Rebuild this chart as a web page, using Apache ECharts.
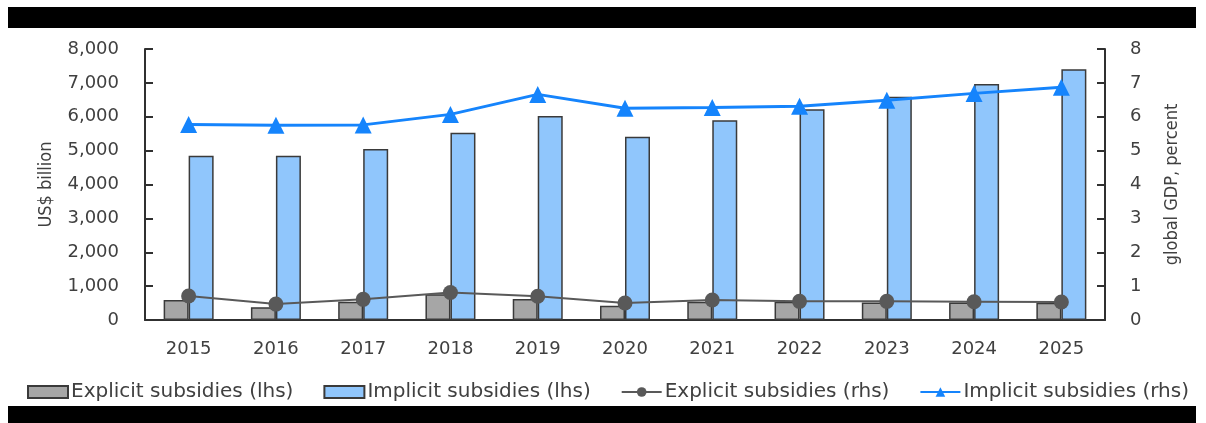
<!DOCTYPE html>
<html>
<head>
<meta charset="utf-8">
<script src="https://cdn.jsdelivr.net/npm/echarts@6/dist/echarts.min.js"></script>
<style>
  html, body { margin: 0; padding: 0; background: #fff; }
  #chart { width: 1206px; height: 423px; }
</style>
</head>
<body>
<div id="chart"></div>
<script>
// Fossil-fuel subsidies, 2015-2025
const years = ['2015', '2016', '2017', '2018', '2019', '2020', '2021', '2022', '2023', '2024', '2025'];
// US$ billion (left axis)
const explicitBillion = [590, 380, 540, 760, 620, 420, 540, 540, 520, 520, 510];
const implicitBillion = [4850, 4850, 5050, 5530, 6020, 5410, 5900, 6220, 6590, 6970, 7400];
// percent of global GDP (right axis)
const explicitPctGdp = [0.71, 0.47, 0.61, 0.81, 0.70, 0.50, 0.59, 0.55, 0.55, 0.54, 0.53];
const implicitPctGdp = [5.77, 5.75, 5.76, 6.07, 6.66, 6.25, 6.27, 6.31, 6.49, 6.69, 6.87];

const FONT = 'DejaVu Sans';
const NARROW = "'DejaVu Sans Condensed', 'Liberation Sans', sans-serif";
const TEXT = '#404040';
const AXIS = '#303030';

const chart = echarts.init(document.getElementById('chart'));
chart.setOption({
  backgroundColor: '#ffffff',
  animation: false,
  textStyle: { fontFamily: FONT, color: TEXT },
  graphic: [
    { type: 'rect', left: 8, top: 7, shape: { width: 1188, height: 21 }, style: { fill: '#000' } },
    { type: 'rect', left: 8, top: 406, shape: { width: 1188, height: 17 }, style: { fill: '#000' } }
  ],
  grid: { left: 145, right: 101, top: 49, bottom: 103, containLabel: false },
  legend: {
    left: 22, top: 377,
    itemWidth: 40, itemHeight: 12, itemGap: 30,
    textStyle: { fontFamily: FONT, fontSize: 20, color: TEXT, padding: [0, 0, 0, -2] },
    data: [
      { name: 'Explicit subsidies (lhs)', icon: 'rect' },
      { name: 'Implicit subsidies (lhs)', icon: 'rect' },
      'Explicit subsidies (rhs)', 'Implicit subsidies (rhs)'
    ]
  },
  xAxis: {
    type: 'category',
    data: years,
    boundaryGap: true,
    axisLine: { lineStyle: { color: AXIS, width: 2 } },
    axisTick: { show: false },
    axisLabel: { fontFamily: FONT, fontSize: 18, color: TEXT, margin: 20 }
  },
  yAxis: [
    {
      type: 'value', min: 0, max: 8000, interval: 1000,
      name: 'US$ billion', nameLocation: 'middle', nameGap: 90, nameRotate: 90,
      nameTextStyle: { fontFamily: NARROW, fontSize: 18, color: TEXT },
      axisLine: { show: true, lineStyle: { color: AXIS, width: 2 } },
      axisTick: { show: true, inside: true, length: 8, lineStyle: { color: AXIS, width: 2 } },
      splitLine: { show: false },
      axisLabel: {
        fontFamily: FONT, fontSize: 18, color: TEXT, margin: 26,
        formatter: v => v.toLocaleString('en-US')
      }
    },
    {
      type: 'value', min: 0, max: 8, interval: 1,
      name: 'global GDP, percent', nameLocation: 'middle', nameGap: 58, nameRotate: 90,
      nameTextStyle: { fontFamily: NARROW, fontSize: 18, color: TEXT },
      axisLine: { show: true, lineStyle: { color: AXIS, width: 2 } },
      axisTick: { show: true, inside: true, length: 8, lineStyle: { color: AXIS, width: 2 } },
      splitLine: { show: false },
      axisLabel: { fontFamily: FONT, fontSize: 18, color: TEXT, margin: 25 }
    }
  ],
  series: [
    {
      name: 'Explicit subsidies (lhs)', type: 'bar', yAxisIndex: 0,
      data: explicitBillion, barWidth: 25, barGap: '0%',
      itemStyle: { color: '#a6a6a6', borderColor: '#3a3a3a', borderWidth: 1.5 }
    },
    {
      name: 'Implicit subsidies (lhs)', type: 'bar', yAxisIndex: 0,
      data: implicitBillion, barWidth: 25, barGap: '0%',
      itemStyle: { color: '#90c6fc', borderColor: '#3a3a3a', borderWidth: 1.5 }
    },
    {
      name: 'Explicit subsidies (rhs)', type: 'line', yAxisIndex: 1,
      data: explicitPctGdp, symbol: 'circle', symbolSize: 15,
      lineStyle: { color: '#595959', width: 2 },
      itemStyle: { color: '#595959' }, z: 5
    },
    {
      name: 'Implicit subsidies (rhs)', type: 'line', yAxisIndex: 1,
      data: implicitPctGdp, symbol: 'triangle', symbolSize: 17,
      lineStyle: { color: '#1584fc', width: 3 },
      itemStyle: { color: '#1584fc' }, z: 6
    }
  ]
});
</script>
</body>
</html>
